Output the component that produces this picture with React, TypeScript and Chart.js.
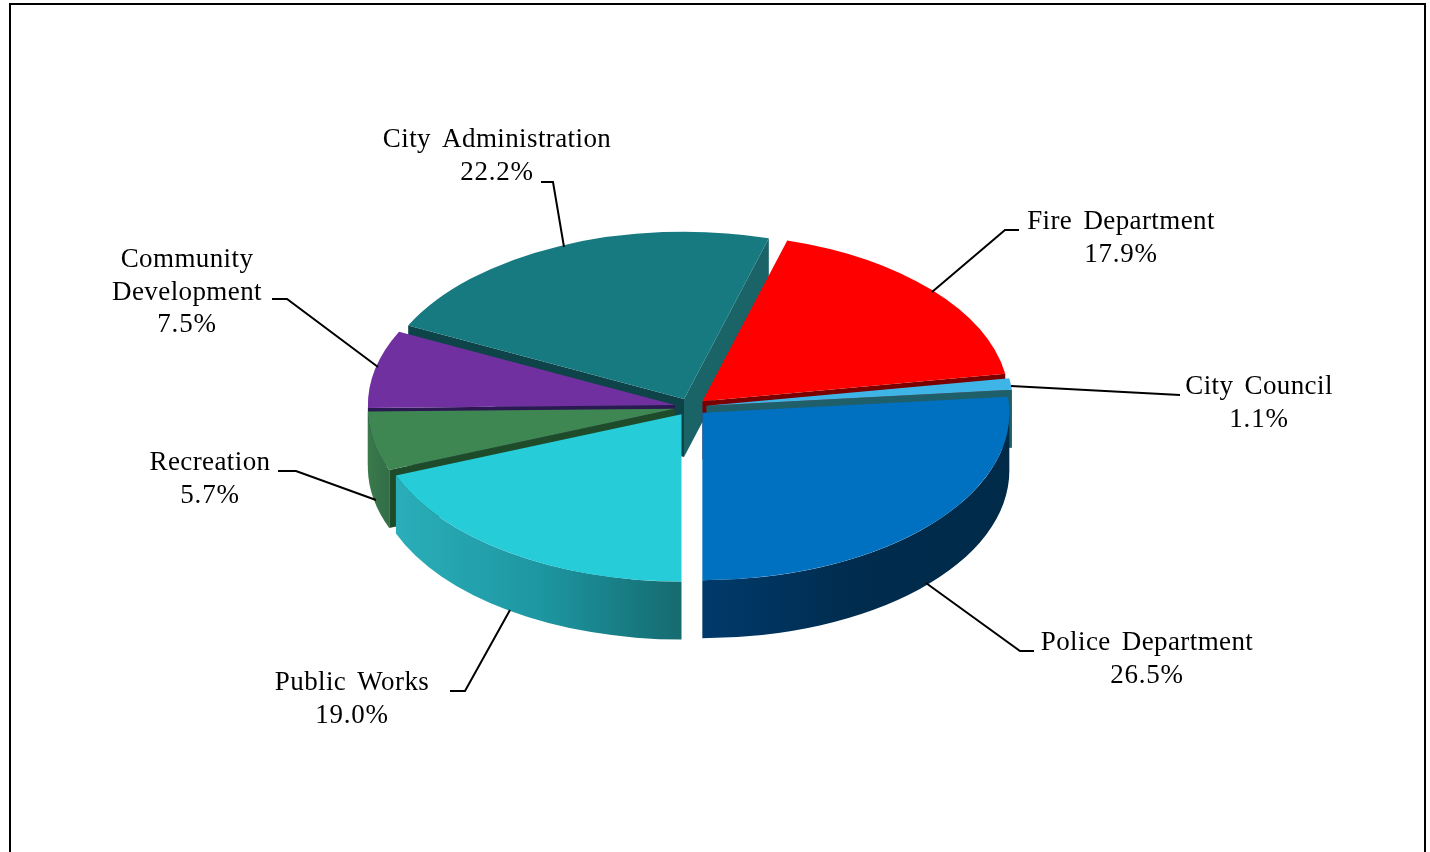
import { useEffect, useRef } from "react";
import { Chart, registerables } from "chart.js";

Chart.register(...registerables);

// Budget shares, listed clockwise starting from six o'clock.
const departments = [
  "Public Works",
  "Recreation",
  "Community Development",
  "City Administration",
  "Fire Department",
  "City Council",
  "Police Department",
];
const shares = [19.0, 5.7, 7.5, 22.2, 17.9, 1.1, 26.5];

const topColors = ["#26CDD9", "#3F8752", "#7030A0", "#167A80", "#FF0000", "#3FB4E6", "#0070C0"];
const rimColors = [
  ["#2AAEB9", "#1D97A2", "#156B70"],
  ["#3A7A4A", "#36734A", "#336E46"],
  ["#4A2070", "#4A2070", "#4A2070"],
  ["#0F5256", "#0F5256", "#0F5256"],
  ["#7A0000", "#7A0000", "#7A0000"],
  ["#1F6A80", "#1F6A80", "#1F6A80"],
  ["#003A6B", "#002C4E", "#002A48"],
];
// Cut faces: [clockwise-leading edge, clockwise-trailing edge].
const wallColors = [
  ["#156B70", "#156B70"],
  ["#1E4C2A", "#1E4C2A"],
  ["#2B1A52", "#2B1A52"],
  ["#0E4449", "#1A6367"],
  ["#7A0000", "#7A0000"],
  ["#1F5F6A", "#1F5F6A"],
  ["#002C4E", "#002C4E"],
];

// Back slices are painted first so nearer ones overlap them.
const paintOrder = [3, 4, 2, 5, 1, 6, 0];

// Text block centre, first baseline, and the leader polyline for each slice.
const calloutLines = [
  ["Public Works"],
  ["Recreation"],
  ["Community", "Development"],
  ["City Administration"],
  ["Fire Department"],
  ["City Council"],
  ["Police Department"],
];
const calloutCenters = [
  [352, 690],
  [210, 470],
  [187, 267],
  [497, 147],
  [1121, 229],
  [1259, 394],
  [1147, 650],
];
const leaderPaths = [
  [[450, 691], [465, 691], [510, 610]],
  [[278, 471], [296, 471], [376, 500]],
  [[272, 299], [287, 299], [378, 367]],
  [[541, 182], [553, 182], [564, 247]],
  [[1019, 230], [1005, 230], [932, 292]],
  [[1180, 395], [1011, 386]],
  [[1034, 651], [1020, 651], [926, 583]],
];

const TILT = 0.545;
const DEPTH = 58;
const EXPLODE = 16;
const LINE_HEIGHT = 32.5;

const pie3d = {
  id: "pie3d",
  beforeDatasetDraw(chart: any) {
    const { ctx } = chart;
    const arcs = chart.getDatasetMeta(0).data;
    for (const i of paintOrder) {
      const arc = arcs[i];
      const { x, y, startAngle: s, endAngle: e, outerRadius: r } = arc.getProps(
        ["x", "y", "startAngle", "endAngle", "outerRadius"],
        true
      );
      const mid = (s + e) / 2;
      const ex = Math.cos(mid) * EXPLODE;
      const ey = Math.sin(mid) * EXPLODE;
      const cx = x + ex;
      const cy = y + ey * TILT;

      const wall = (a: number, color: string) => {
        const px = cx + Math.cos(a) * r;
        const py = cy + Math.sin(a) * r * TILT;
        ctx.beginPath();
        ctx.moveTo(cx, cy);
        ctx.lineTo(px, py);
        ctx.lineTo(px, py + DEPTH);
        ctx.lineTo(cx, cy + DEPTH);
        ctx.closePath();
        ctx.fillStyle = color;
        ctx.fill();
      };
      if (Math.sin(s - Math.PI / 2) > 0) wall(s, wallColors[i][0]);
      if (Math.sin(e + Math.PI / 2) > 0) wall(e, wallColors[i][1]);

      // Curved rim: only the part facing the viewer.
      for (const base of [0, 2 * Math.PI]) {
        const a0 = Math.max(s, base);
        const a1 = Math.min(e, base + Math.PI);
        if (a1 <= a0) continue;
        const xs = [cx + Math.cos(a0) * r, cx + Math.cos(a1) * r];
        const grad = ctx.createLinearGradient(Math.min(...xs), 0, Math.max(...xs), 0);
        rimColors[i].forEach((c, n) => grad.addColorStop(n / 2, c));
        ctx.beginPath();
        ctx.ellipse(cx, cy, r, r * TILT, 0, a0, a1);
        ctx.ellipse(cx, cy + DEPTH, r, r * TILT, 0, a1, a0, true);
        ctx.closePath();
        ctx.fillStyle = grad;
        ctx.fill();
      }

      // Flatten the library's own arc onto the tilted top face.
      ctx.save();
      ctx.translate(x, y);
      ctx.scale(1, TILT);
      ctx.translate(ex - x, ey - y);
      arc.draw(ctx);
      ctx.restore();
    }
    return false;
  },
};

const callouts = {
  id: "callouts",
  afterDraw(chart: any) {
    const { ctx } = chart;
    ctx.save();
    ctx.strokeStyle = "#000";
    ctx.lineWidth = 2;
    ctx.strokeRect(10, 4, 1415, 900);
    leaderPaths.forEach((path) => {
      ctx.beginPath();
      path.forEach(([px, py], n) => (n ? ctx.lineTo(px, py) : ctx.moveTo(px, py)));
      ctx.stroke();
    });
    ctx.fillStyle = "#000";
    ctx.font = '27px "Liberation Serif"';
    ctx.textAlign = "center";
    ctx.textBaseline = "alphabetic";
    (ctx as any).wordSpacing = "4px";
    calloutLines.forEach((lines, i) => {
      const [tx, ty] = calloutCenters[i];
      (ctx as any).letterSpacing = "0.4px";
      lines.forEach((row, n) => ctx.fillText(row, tx, ty + n * LINE_HEIGHT));
      (ctx as any).letterSpacing = "0.8px";
      ctx.fillText(`${shares[i].toFixed(1)}%`, tx, ty + lines.length * LINE_HEIGHT);
    });
    ctx.restore();
  },
};

export default function App() {
  const ref = useRef<HTMLCanvasElement>(null);
  useEffect(() => {
    const chart = new Chart(ref.current!, {
      type: "pie",
      data: {
        labels: departments,
        datasets: [{ data: shares, backgroundColor: topColors, borderWidth: 0 }],
      },
      options: {
        animation: false,
        responsive: false,
        events: [],
        rotation: 180,
        radius: 307,
        layout: { padding: { left: 0, right: 49, top: 0, bottom: 38 } },
        plugins: { legend: { display: false }, tooltip: { enabled: false } },
      },
      plugins: [pie3d, callouts],
    } as any);
    return () => chart.destroy();
  }, []);
  return (
    <div style={{ position: "absolute", left: 0, top: 0, width: 1430, height: 852, background: "#fff" }}>
      <canvas ref={ref} width={1430} height={852} style={{ display: "block" }} />
    </div>
  );
}
